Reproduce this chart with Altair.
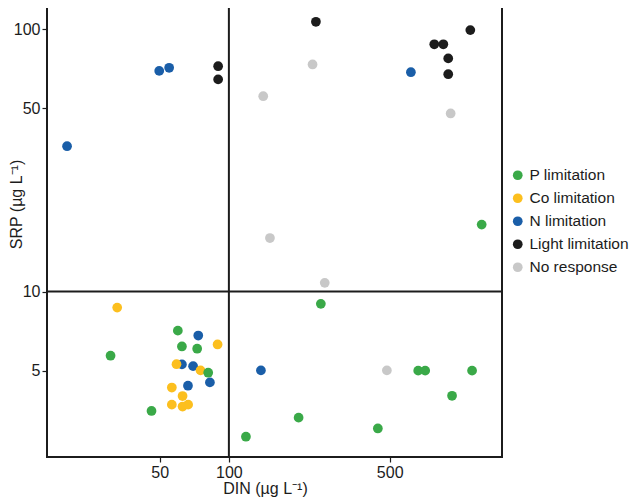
import altair as alt
import pandas as pd

categories = ["P limitation", "Co limitation", "N limitation", "Light limitation", "No response"]
colors = ["#3aa948", "#fcbf1e", "#1a5ea8", "#1c1c1c", "#c8c8c8"]

# DIN (x) and SRP (y) per response class
p_din = [30.6, 60.0, 62.5, 72.8, 81.3, 46.1, 118.6, 200.9, 251, 665, 713, 1140, 933, 444, 1255]
p_srp = [5.70, 7.10, 6.18, 6.06, 4.91, 3.51, 2.80, 3.31, 8.98, 5.0, 5.0, 5.0, 4.01, 3.01, 18.0]

co_din = [32.7, 89.3, 59.2, 75.3, 56.5, 62.9, 56.5, 62.9, 66.5]
co_srp = [8.69, 6.29, 5.29, 5.01, 4.31, 4.00, 3.71, 3.65, 3.71]

n_din = [19.8, 49.8, 55.0, 618, 73.6, 62.5, 69.9, 82.7, 66.4, 137.8]
n_srp = [35.8, 69.3, 71.2, 68.5, 6.80, 5.28, 5.20, 4.51, 4.38, 5.01]

light_din = [89.8, 89.8, 238.9, 1120, 781, 855, 898, 898]
light_srp = [72.2, 64.3, 106.6, 99.1, 87.5, 87.5, 77.3, 67.3]

none_din = [141, 150.8, 231, 920, 261, 486]
none_srp = [55.5, 16.0, 73.3, 47.7, 10.8, 5.01]

x_ticks = [50, 100, 500]
y_ticks = [5, 10, 50, 100]
din_threshold = [100]
srp_threshold = [10]

groups = [
    ("No response", none_din, none_srp),
    ("Light limitation", light_din, light_srp),
    ("N limitation", n_din, n_srp),
    ("Co limitation", co_din, co_srp),
    ("P limitation", p_din, p_srp),
]
rows = []
for name, xs, ys in groups:
    for xv, yv in zip(xs, ys):
        rows.append({"DIN": xv, "SRP": yv, "Response": name})
df = pd.DataFrame(rows)

xscale = alt.Scale(type="log", domain=[16.2, 1538], nice=False)
yscale = alt.Scale(type="log", domain=[2.344, 126.8], nice=False)

font = "Liberation Sans"

points = alt.Chart(df).mark_circle(size=95, opacity=1).encode(
    x=alt.X("DIN:Q", scale=xscale,
            axis=alt.Axis(values=x_ticks, format="d", title="DIN (µg L⁻¹)",
                          grid=False, domain=False, tickSize=5, tickColor="#1c1c1c",
                          tickWidth=1.2, labelPadding=2, labelFontSize=16,
                          labelColor="#1c1c1c", titleFontSize=16,
                          titleFontWeight="normal", titleColor="#1c1c1c",
                          titlePadding=0, titleX=218, labelFont=font, titleFont=font)),
    y=alt.Y("SRP:Q", scale=yscale,
            axis=alt.Axis(values=y_ticks, format="d", title="SRP (µg L⁻¹)",
                          grid=False, domain=False, tickSize=5, tickColor="#1c1c1c",
                          tickWidth=1.2, labelPadding=2, labelFontSize=16,
                          labelColor="#1c1c1c", titleFontSize=16,
                          titleFontWeight="normal", titleColor="#1c1c1c",
                          titleX=-23, titleY=202, labelFont=font, titleFont=font)),
    color=alt.Color("Response:N",
                    scale=alt.Scale(domain=categories, range=colors),
                    legend=alt.Legend(title=None, orient="none", legendX=463, legendY=165.5,
                                      labelFontSize=15.5, labelFont=font,
                                      labelColor="#1c1c1c", symbolSize=95,
                                      symbolType="circle", symbolStrokeWidth=0,
                                      symbolOpacity=1, rowPadding=6, labelOffset=4,
                                      padding=0)),
)

vrule = alt.Chart(pd.DataFrame({"x": din_threshold})).mark_rule(
    color="#1c1c1c", strokeWidth=2).encode(x=alt.X("x:Q", scale=xscale))
hrule = alt.Chart(pd.DataFrame({"y": srp_threshold})).mark_rule(
    color="#1c1c1c", strokeWidth=2).encode(y=alt.Y("y:Q", scale=yscale))

chart = alt.layer(vrule, hrule, points).properties(
    width=455, height=455,
    autosize=alt.AutoSizeParams(type="none"),
    padding={"left": 39, "top": -6, "right": 128, "bottom": 44},
).configure(font=font).configure_view(stroke="#1c1c1c", strokeWidth=2)

chart.save("out.html", embed_options={"renderer": "svg", "actions": False})
